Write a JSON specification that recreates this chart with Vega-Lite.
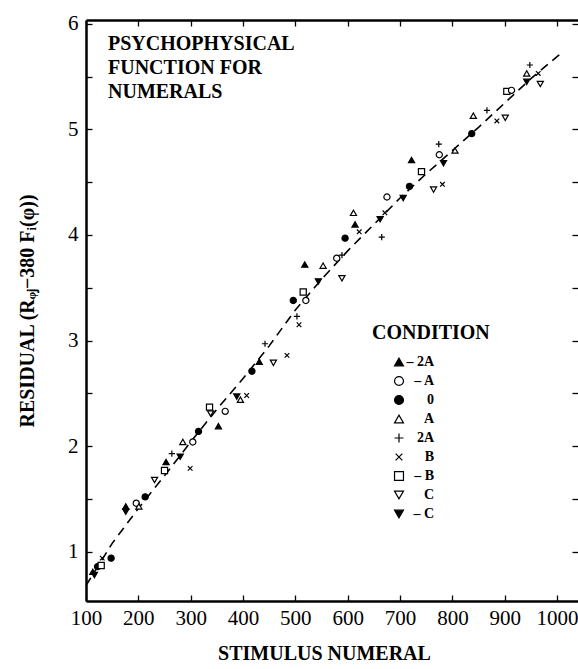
{
  "$schema": "https://vega.github.io/schema/vega-lite/v6.json",
  "autosize": "none",
  "width": 492,
  "height": 581,
  "padding": {"left": 86, "top": 20, "right": 0, "bottom": 68},
  "background": "white",
  "title": {
    "text": ["PSYCHOPHYSICAL", "FUNCTION FOR", "NUMERALS"],
    "anchor": "start",
    "frame": "group",
    "orient": "top",
    "baseline": "top",
    "align": "left",
    "offset": -72,
    "dx": 22,
    "dy": 17,
    "font": "Liberation Serif",
    "fontSize": 20,
    "fontWeight": "bold",
    "lineHeight": 24,
    "color": "black"
  },
  "datasets": {
    "fit": [
      {"x": 100, "y": 0.68}, {"x": 150, "y": 1.08}, {"x": 200, "y": 1.41}, {"x": 250, "y": 1.72},
      {"x": 300, "y": 2.04}, {"x": 350, "y": 2.35}, {"x": 400, "y": 2.64}, {"x": 450, "y": 2.95},
      {"x": 500, "y": 3.29}, {"x": 550, "y": 3.58}, {"x": 600, "y": 3.85}, {"x": 650, "y": 4.10},
      {"x": 700, "y": 4.35}, {"x": 750, "y": 4.58}, {"x": 800, "y": 4.80}, {"x": 850, "y": 5.02},
      {"x": 900, "y": 5.25}, {"x": 950, "y": 5.48}, {"x": 1000, "y": 5.69}, {"x": 1005, "y": 5.71}
    ],
    "pts": [
      {"x": 113, "y": 0.81, "c": "-2A"}, {"x": 116, "y": 0.78, "c": "-C"}, {"x": 122, "y": 0.86, "c": "0"},
      {"x": 129, "y": 0.87, "c": "-B"}, {"x": 131, "y": 0.94, "c": "B"}, {"x": 148, "y": 0.94, "c": "0"},
      {"x": 176, "y": 1.43, "c": "-2A"}, {"x": 176, "y": 1.38, "c": "-C"}, {"x": 196, "y": 1.46, "c": "-A"},
      {"x": 201, "y": 1.43, "c": "A"}, {"x": 213, "y": 1.52, "c": "0"}, {"x": 231, "y": 1.68, "c": "C"},
      {"x": 250, "y": 1.77, "c": "-B"}, {"x": 253, "y": 1.85, "c": "-2A"}, {"x": 264, "y": 1.93, "c": "2A"},
      {"x": 280, "y": 1.90, "c": "-C"}, {"x": 299, "y": 1.79, "c": "B"}, {"x": 285, "y": 2.04, "c": "A"},
      {"x": 304, "y": 2.04, "c": "-A"}, {"x": 315, "y": 2.14, "c": "0"}, {"x": 336, "y": 2.37, "c": "-B"},
      {"x": 338, "y": 2.31, "c": "C"}, {"x": 353, "y": 2.19, "c": "-2A"}, {"x": 366, "y": 2.33, "c": "-A"},
      {"x": 388, "y": 2.47, "c": "-C"}, {"x": 395, "y": 2.44, "c": "A"}, {"x": 407, "y": 2.48, "c": "B"},
      {"x": 417, "y": 2.71, "c": "0"}, {"x": 431, "y": 2.80, "c": "-2A"}, {"x": 442, "y": 2.97, "c": "2A"},
      {"x": 458, "y": 2.79, "c": "C"}, {"x": 484, "y": 2.86, "c": "B"}, {"x": 496, "y": 3.38, "c": "0"},
      {"x": 503, "y": 3.23, "c": "2A"}, {"x": 507, "y": 3.15, "c": "B"}, {"x": 515, "y": 3.46, "c": "-B"},
      {"x": 520, "y": 3.38, "c": "-A"}, {"x": 518, "y": 3.72, "c": "-2A"}, {"x": 544, "y": 3.56, "c": "-C"},
      {"x": 553, "y": 3.71, "c": "A"}, {"x": 579, "y": 3.78, "c": "-A"}, {"x": 589, "y": 3.59, "c": "C"},
      {"x": 589, "y": 3.81, "c": "2A"}, {"x": 595, "y": 3.97, "c": "0"}, {"x": 611, "y": 4.21, "c": "A"},
      {"x": 614, "y": 4.10, "c": "-2A"}, {"x": 622, "y": 4.03, "c": "B"}, {"x": 662, "y": 4.15, "c": "-C"},
      {"x": 665, "y": 3.98, "c": "2A"}, {"x": 671, "y": 4.21, "c": "B"}, {"x": 675, "y": 4.36, "c": "-A"},
      {"x": 706, "y": 4.35, "c": "-C"}, {"x": 718, "y": 4.46, "c": "0"}, {"x": 722, "y": 4.71, "c": "-2A"},
      {"x": 741, "y": 4.60, "c": "-B"}, {"x": 764, "y": 4.43, "c": "C"}, {"x": 781, "y": 4.48, "c": "B"},
      {"x": 775, "y": 4.76, "c": "-A"}, {"x": 783, "y": 4.68, "c": "-C"}, {"x": 774, "y": 4.86, "c": "2A"},
      {"x": 805, "y": 4.80, "c": "A"}, {"x": 837, "y": 4.96, "c": "0"}, {"x": 840, "y": 5.13, "c": "A"},
      {"x": 866, "y": 5.18, "c": "2A"}, {"x": 885, "y": 5.08, "c": "B"}, {"x": 901, "y": 5.11, "c": "C"},
      {"x": 904, "y": 5.36, "c": "-B"}, {"x": 913, "y": 5.37, "c": "-A"}, {"x": 942, "y": 5.45, "c": "-C"},
      {"x": 948, "y": 5.61, "c": "2A"}, {"x": 942, "y": 5.53, "c": "A"}, {"x": 964, "y": 5.53, "c": "B"},
      {"x": 968, "y": 5.43, "c": "C"}
    ]
  },
  "layer": [
    {
      "data": {"name": "fit"},
      "mark": {"type": "line", "color": "black", "strokeWidth": 1.6, "strokeDash": [9, 6]},
      "encoding": {
        "x": {
          "field": "x", "type": "quantitative",
          "scale": {"domain": [100, 1040], "nice": false, "zero": false},
          "axis": {
            "orient": "bottom", "title": "STIMULUS NUMERAL",
            "values": [100, 200, 300, 400, 500, 600, 700, 800, 900, 1000],
            "format": "d", "labelFlush": false, "titleX": 238
          }
        },
        "y": {
          "field": "y", "type": "quantitative",
          "scale": {"domain": [0.534, 6.036], "nice": false, "zero": false},
          "axis": {
            "orient": "left", "title": "RESIDUAL  (Rᵩⱼ−380 Fᵢ(φ))",
            "values": [1, 1.5, 2, 2.5, 3, 3.5, 4, 4.5, 5, 5.5, 6],
            "labelExpr": "datum.value % 1 === 0 ? format(datum.value, 'd') : ''",
            "labelPadding": 14, "titlePadding": 30, "labelFlush": false
          }
        }
      }
    },
    {
      "data": {"name": "pts"},
      "mark": {"type": "point", "strokeWidth": 1.2, "opacity": 1, "size": 38},
      "encoding": {
        "x": {
          "field": "x", "type": "quantitative",
          "axis": {
            "orient": "top", "title": null, "labels": false,
            "values": [100, 200, 300, 400, 500, 600, 700, 800, 900, 1000]
          }
        },
        "y": {
          "field": "y", "type": "quantitative",
          "axis": {
            "orient": "right", "title": null, "labels": false, "domain": false,
            "values": [1, 1.5, 2, 2.5, 3, 3.5, 4, 4.5, 5, 5.5, 6]
          }
        },
        "shape": {
          "field": "c", "type": "nominal", "title": "CONDITION",
          "scale": {
            "domain": ["-2A", "-A", "0", "A", "2A", "B", "-B", "C", "-C"],
            "range": ["triangle-up", "circle", "circle", "triangle-up", "M-1,0H1M0,-1V1", "M-0.75,-0.75L0.75,0.75M-0.75,0.75L0.75,-0.75", "square", "triangle-down", "triangle-down"]
          },
          "legend": {
            "labelExpr": "datum.label == '-2A' ? '– 2A' : datum.label == '-A' ? '– A' : datum.label == '-B' ? '– B' : datum.label == '-C' ? '– C' : datum.label"
          }
        },
        "fill": {
          "field": "c", "type": "nominal", "title": "CONDITION",
          "scale": {
            "domain": ["-2A", "-A", "0", "A", "2A", "B", "-B", "C", "-C"],
            "range": ["black", "white", "black", "white", "transparent", "transparent", "white", "white", "black"]
          },
          "legend": {
            "labelExpr": "datum.label == '-2A' ? '– 2A' : datum.label == '-A' ? '– A' : datum.label == '-B' ? '– B' : datum.label == '-C' ? '– C' : datum.label"
          }
        },
        "stroke": {
          "field": "c", "type": "nominal", "title": "CONDITION",
          "scale": {
            "domain": ["-2A", "-A", "0", "A", "2A", "B", "-B", "C", "-C"],
            "range": ["black", "black", "black", "black", "black", "black", "black", "black", "black"]
          },
          "legend": {
            "labelExpr": "datum.label == '-2A' ? '– 2A' : datum.label == '-A' ? '– A' : datum.label == '-B' ? '– B' : datum.label == '-C' ? '– C' : datum.label"
          }
        }
      }
    }
  ],
  "resolve": {"axis": {"x": "independent", "y": "independent"}},
  "config": {
    "view": {"stroke": null},
    "axis": {
      "grid": false,
      "domainColor": "black", "domainWidth": 2.5,
      "tickColor": "black", "tickWidth": 1.3, "tickSize": -6,
      "labelFont": "Liberation Sans Narrow", "labelFontSize": 21, "labelColor": "black",
      "labelPadding": 12,
      "titleFont": "Liberation Serif", "titleFontSize": 20, "titleFontWeight": "bold", "titleColor": "black",
      "titlePadding": 15
    },
    "legend": {
      "orient": "none",
      "legendX": 286,
      "legendY": 303,
      "padding": 0,
      "titleFont": "Liberation Serif", "titleFontSize": 20, "titleFontWeight": "bold", "titleColor": "black",
      "titlePadding": 12,
      "labelFont": "Liberation Sans Narrow", "labelFontSize": 14, "labelFontWeight": "bold", "labelColor": "black",
      "labelAlign": "right",
      "labelOffset": 28,
      "symbolOffset": 20,
      "symbolSize": 80,
      "symbolStrokeWidth": 1.2,
      "rowPadding": 5
    }
  }
}
